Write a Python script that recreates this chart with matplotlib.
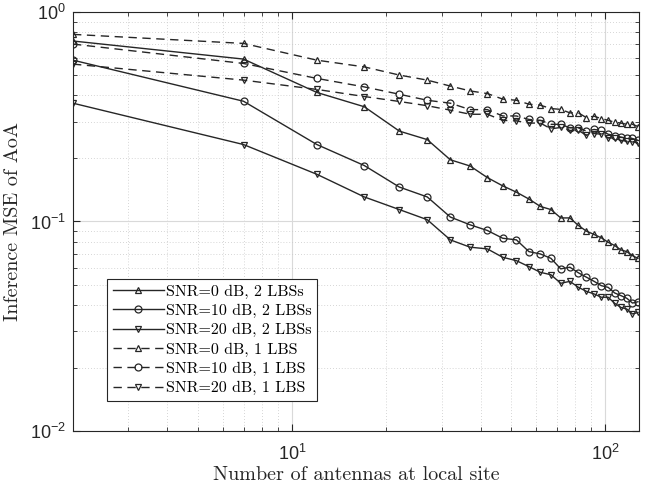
import matplotlib
matplotlib.use("Agg")
import matplotlib.pyplot as plt
from matplotlib.ticker import LogLocator, NullFormatter

# number of antennas (x) and MSE values
antennas = [2, 7, 12, 17, 22, 27, 32, 37, 42, 47, 52, 57, 62, 67, 72, 77,
            82, 87, 92, 97, 102, 107, 112, 117, 122, 127]

mse_0db_2lbs = [0.727, 0.596, 0.413, 0.353, 0.270, 0.246, 0.197, 0.184, 0.162,
                0.148, 0.138, 0.128, 0.118, 0.114, 0.104, 0.104, 0.0957, 0.0899,
                0.0867, 0.0836, 0.0796, 0.0768, 0.0732, 0.0718, 0.0687, 0.0667]
mse_10db_2lbs = [0.589, 0.375, 0.233, 0.185, 0.146, 0.131, 0.105, 0.0964, 0.0906,
                 0.0832, 0.0817, 0.0718, 0.0700, 0.0667, 0.0594, 0.0605, 0.0569,
                 0.0542, 0.0518, 0.0494, 0.0485, 0.0456, 0.0443, 0.0430, 0.0408,
                 0.0414]
mse_20db_2lbs = [0.367, 0.233, 0.168, 0.131, 0.114, 0.102, 0.0817, 0.0754, 0.0740,
                 0.0675, 0.0650, 0.0609, 0.0572, 0.0557, 0.0507, 0.0518, 0.0485,
                 0.0464, 0.0451, 0.0435, 0.0435, 0.0407, 0.0389, 0.0382, 0.0362,
                 0.0368]
mse_0db_1lbs = [0.782, 0.708, 0.589, 0.547, 0.500, 0.473, 0.443, 0.420, 0.408,
                0.384, 0.379, 0.363, 0.359, 0.346, 0.343, 0.330, 0.330, 0.313,
                0.318, 0.310, 0.304, 0.298, 0.295, 0.291, 0.291, 0.284]
mse_10db_1lbs = [0.703, 0.568, 0.482, 0.439, 0.405, 0.379, 0.367, 0.342, 0.342,
                 0.319, 0.319, 0.307, 0.304, 0.291, 0.291, 0.280, 0.280, 0.270,
                 0.275, 0.272, 0.261, 0.257, 0.253, 0.249, 0.249, 0.244]
mse_20db_1lbs = [0.564, 0.473, 0.427, 0.395, 0.374, 0.357, 0.340, 0.325, 0.325,
                 0.304, 0.302, 0.295, 0.295, 0.277, 0.281, 0.272, 0.272, 0.258,
                 0.263, 0.261, 0.251, 0.250, 0.244, 0.242, 0.240, 0.238]

SERIES = [
    (mse_0db_2lbs, "-", "^", "SNR=0 dB, 2 LBSs"),
    (mse_10db_2lbs, "-", "o", "SNR=10 dB, 2 LBSs"),
    (mse_20db_2lbs, "-", "v", "SNR=20 dB, 2 LBSs"),
    (mse_0db_1lbs, (0, (6, 4)), "^", "SNR=0 dB, 1 LBS"),
    (mse_10db_1lbs, (0, (6, 4)), "o", "SNR=10 dB, 1 LBS"),
    (mse_20db_1lbs, (0, (6, 4)), "v", "SNR=20 dB, 1 LBS"),
]

LINE_COLOR = "#262626"
SERIF = ["cmr10", "DejaVu Serif"]

plt.rcParams["font.family"] = ["Liberation Sans", "DejaVu Sans"]
plt.rcParams["axes.formatter.use_mathtext"] = True

fig = plt.figure(figsize=(6.59, 4.92), dpi=100)
ax = fig.add_axes([0.1108, 0.124, 0.8589, 0.8516])

for values, ls, marker, label in SERIES:
    ax.plot(antennas, values, linestyle=ls, color=LINE_COLOR, linewidth=1.0,
            marker=marker, markersize=5, markerfacecolor="none",
            markeredgecolor=LINE_COLOR, markeredgewidth=0.9, label=label)

ax.set_xscale("log")
ax.set_yscale("log")
ax.set_xlim(2, 128)
ax.set_ylim(1e-2, 1)

ax.xaxis.set_minor_locator(LogLocator(base=10, subs=range(2, 10), numticks=20))
ax.yaxis.set_minor_locator(LogLocator(base=10, subs=range(2, 10), numticks=20))
ax.xaxis.set_minor_formatter(NullFormatter())
ax.yaxis.set_minor_formatter(NullFormatter())

ax.grid(True, which="major", color="#d9d9d9", linestyle="-", linewidth=0.8)
ax.grid(True, which="minor", color="#c8c8c8", linestyle=(0, (1, 2.5)), linewidth=0.6)
ax.set_axisbelow(True)

ax.tick_params(which="both", direction="in", top=True, right=True,
               colors=LINE_COLOR, labelsize=13)
ax.tick_params(which="major", length=5)
ax.tick_params(which="minor", length=3)
ax.tick_params(axis="x", which="major", pad=9)
ax.tick_params(axis="y", which="major", pad=5)
for spine in ax.spines.values():
    spine.set_color(LINE_COLOR)
    spine.set_linewidth(0.8)

ax.set_xlabel("Number of antennas at local site", family=SERIF, fontsize=14.5,
              color=LINE_COLOR, labelpad=2)
ax.set_ylabel("Inference MSE of AoA", family=SERIF, fontsize=14.5,
              color=LINE_COLOR, labelpad=6)

leg = ax.legend(loc="lower left", bbox_to_anchor=(0.060, 0.0716), borderaxespad=0,
                prop={"family": SERIF, "size": 11.5}, fancybox=False,
                edgecolor=LINE_COLOR, framealpha=1, handlelength=3.2,
                handletextpad=0.15, labelspacing=0.32, borderpad=0.35)
leg.get_frame().set_linewidth(0.8)

fig.savefig("out.png", dpi=100)
